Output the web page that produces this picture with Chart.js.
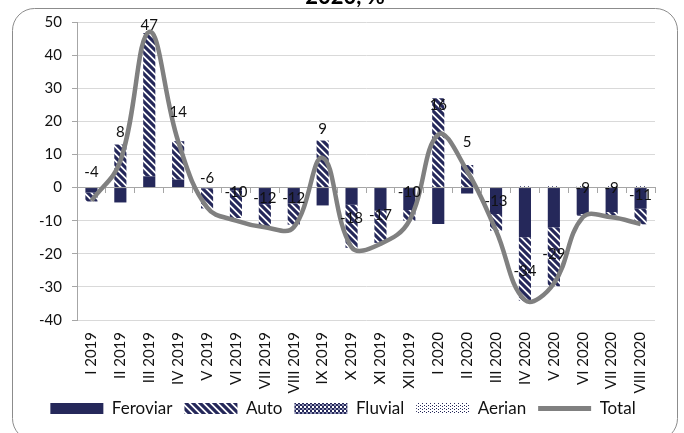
<!DOCTYPE html>
<html>
<head>
<meta charset="utf-8">
<script src="https://cdn.jsdelivr.net/npm/chart.js@4/dist/chart.umd.min.js"></script>
<style>
    html, body { margin: 0; padding: 0; background: #fff; }
    #wrap { width: 684px; height: 433px; }
</style>
</head>
<body>
<div id="wrap"><canvas id="chart" width="684" height="433"></canvas></div>
<script>
// Monthly change by transport mode, %
const labels = ['I 2019', 'II 2019', 'III 2019', 'IV 2019', 'V 2019', 'VI 2019', 'VII 2019', 'VIII 2019',
    'IX 2019', 'X 2019', 'XI 2019', 'XII 2019', 'I 2020', 'II 2020', 'III 2020', 'IV 2020',
    'V 2020', 'VI 2020', 'VII 2020', 'VIII 2020'];
const feroviar = [-1.5, -4.5, 3.4, 2.4, -0.3, -0.8, -5, -4.8, -5.4, -5.2, -7, -6.8, -11, -1.8, -8, -15, -12, -8, -7.4, -6.4];
const auto = [-2.7, 13, 43.3, 11.6, -6, -8.4, -6.8, -6.4, 14.2, -13, -9.7, -3.2, 27, 6.8, -5, -19.2, -17.8, -0.5, -1, -4.7];
const fluvial = [0, 0, 0, 0, 0, 0, 0, 0, 0, 0, 0, 0, 0, 0, 0, 0, 0, 0, 0, 0];
const aerian = [0, 0, 0, 0, 0, 0, 0, 0, 0, 0, 0, 0, 0, 0, 0, 0.4, 0.4, 0.4, 0.4, 0.4];
const total = [-4, 8, 47, 14, -6, -10, -12, -12, 9, -18, -17, -10, 16, 5, -13, -34, -29, -9, -9, -11];
const titleText = '2020, %';

const NAVY = '#25285a';
const FONT = 'Lato, "Open Sans", sans-serif';

// small tiles used as bar fills
function makePattern(w, h, paint) {
    const c = document.createElement('canvas');
    c.width = w;
    c.height = h;
    const g = c.getContext('2d');
    g.fillStyle = '#fff';
    g.fillRect(0, 0, w, h);
    paint(g, w);
    return document.getElementById('chart').getContext('2d').createPattern(c, 'repeat');
}

const autoFill = makePattern(7, 7, (g, s) => {
    g.strokeStyle = NAVY;
    g.lineWidth = 3.2;
    g.beginPath();
    g.moveTo(-s, 0); g.lineTo(s, 2 * s);
    g.moveTo(0, 0); g.lineTo(s, s);
    g.moveTo(0, -s); g.lineTo(2 * s, s);
    g.stroke();
});
const fluvialFill = makePattern(4, 4, (g) => {
    g.fillStyle = NAVY;
    g.fillRect(0, 0, 2, 2);
    g.fillRect(2, 2, 2, 2);
    g.fillStyle = '#8d90b3';
    g.fillRect(2, 0, 2, 2);
});
const aerianFill = makePattern(4, 3, (g) => {
    g.fillStyle = NAVY;
    g.fillRect(0, 0, 1, 1);
    g.fillRect(2, 1, 1, 1);
});

// frame and cropped title
const framePlugin = {
    id: 'frame',
    afterLayout(chart) {
        // legend sits partly beside the tall rotated labels
        chart.legend.top -= 9;
        chart.legend.bottom -= 9;
    },
    beforeDraw(chart) {
        const ctx = chart.ctx;
        ctx.save();
        ctx.fillStyle = '#fff';
        ctx.fillRect(0, 0, chart.width, chart.height);
        ctx.strokeStyle = '#8c8c8c';
        ctx.lineWidth = 1;
        ctx.beginPath();
        ctx.roundRect(12.5, 8.5, 665, 432, 22);
        ctx.stroke();
        ctx.restore();
    },
    afterDraw(chart) {
        const ctx = chart.ctx;
        ctx.save();
        ctx.fillStyle = '#000';
        ctx.font = 'bold 22px ' + FONT;
        ctx.textAlign = 'center';
        ctx.textBaseline = 'alphabetic';
        ctx.fillText(titleText, 345, 4);
        ctx.restore();
    }
};

// value labels above the Total line
const totalLabels = {
    id: 'totalLabels',
    afterDatasetsDraw(chart) {
        const idx = chart.data.datasets.findIndex(d => d.type === 'line');
        const meta = chart.getDatasetMeta(idx);
        const ctx = chart.ctx;
        ctx.save();
        ctx.fillStyle = '#111';
        ctx.font = '15px ' + FONT;
        ctx.textAlign = 'center';
        ctx.textBaseline = 'middle';
        meta.data.forEach((pt, i) => {
            const y = Math.max(pt.y - 29, chart.chartArea.top + 3);
            ctx.fillText(String(total[i]), pt.x, y);
        });
        ctx.restore();
    }
};

function barSet(label, data, fill) {
    return {
        type: 'bar',
        label,
        data,
        backgroundColor: fill,
        borderWidth: 0,
        stack: 'modes',
        order: 1,
        barPercentage: 0.42,
        categoryPercentage: 1
    };
}

const datasets = [
    barSet('Feroviar', feroviar, NAVY),
    barSet('Auto', auto, autoFill),
    barSet('Fluvial', fluvial, fluvialFill),
    barSet('Aerian', aerian, aerianFill),
    {
        type: 'line',
        label: 'Total',
        data: total,
        borderColor: '#808080',
        backgroundColor: '#808080',
        borderWidth: 4.5,
        tension: 0.4,
        pointRadius: 0,
        fill: false,
        stack: 'total',
        order: 0
    }
];

new Chart(document.getElementById('chart'), {
    type: 'bar',
    data: { labels, datasets },
    options: {
        responsive: false,
        animation: false,
        layout: { padding: { left: 31, right: 29, top: 22, bottom: -3 } },
        plugins: {
            tooltip: { enabled: false },
            legend: {
                position: 'bottom',
                labels: {
                    usePointStyle: true,
                    pointStyleWidth: 53,
                    boxHeight: 11,
                    padding: 12,
                    color: '#111',
                    font: { family: FONT, size: 17 },
                    sort: (a, b) => a.datasetIndex - b.datasetIndex,
                    generateLabels(chart) {
                        const items = Chart.defaults.plugins.legend.labels.generateLabels(chart);
                        items.forEach(it => {
                            const ds = chart.data.datasets[it.datasetIndex];
                            if (ds.type === 'line') {
                                it.pointStyle = 'line';
                                it.lineWidth = 5;
                                it.strokeStyle = '#808080';
                            } else {
                                it.pointStyle = 'rect';
                                it.lineWidth = 0;
                            }
                        });
                        return items;
                    }
                }
            }
        },
        scales: {
            x: {
                stacked: true,
                grid: { display: false, drawTicks: false },
                border: { display: false },
                ticks: {
                    autoSkip: false,
                    maxRotation: 90,
                    minRotation: 90,
                    padding: 12,
                    color: '#111',
                    font: { family: FONT, size: 15 }
                },
                afterFit(scale) { scale.height = 77; }
            },
            x0: {
                type: 'category',
                labels,
                offset: true,
                position: { y: 0 },
                grid: { offset: true, drawOnChartArea: false, tickLength: 5, color: '#a6a6a6' },
                border: { color: '#a6a6a6' },
                ticks: { display: false }
            },
            y: {
                stacked: true,
                min: -40,
                max: 50,
                ticks: {
                    stepSize: 10,
                    padding: 10,
                    color: '#111',
                    font: { family: FONT, size: 15 }
                },
                grid: { color: '#d9d9d9', tickColor: '#a6a6a6', tickLength: 5 },
                border: { color: '#a6a6a6' },
                afterFit(scale) { scale.width = 46; }
            }
        }
    },
    plugins: [framePlugin, totalLabels]
});
</script>
</body>
</html>
